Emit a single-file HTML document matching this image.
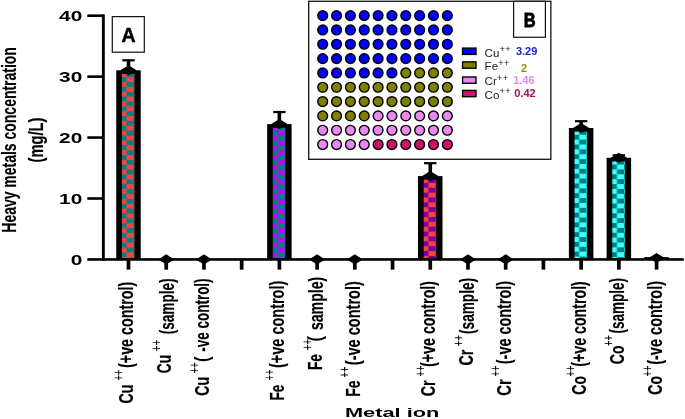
<!DOCTYPE html>
<html><head><meta charset="utf-8"><title>Heavy metals concentration</title>
<style>html,body{margin:0;padding:0;background:#fff;}body{width:685px;height:419px;overflow:hidden;}svg{display:block;will-change:transform;}text{font-family:"Liberation Sans",sans-serif;}</style>
</head><body>
<svg width="685" height="419" viewBox="0 0 685 419">
<rect x="0" y="0" width="685" height="419" fill="#ffffff"/>
<defs>
<pattern id="p0" patternUnits="userSpaceOnUse" x="119.30" y="72.20" width="14.60" height="9.74"><rect x="0" y="0" width="14.60" height="9.74" fill="#ff4040"/><rect x="7.30" y="0" width="7.30" height="4.87" fill="#008080"/><rect x="0" y="4.87" width="7.30" height="4.87" fill="#008080"/></pattern>
<pattern id="p1" patternUnits="userSpaceOnUse" x="270.18" y="126.00" width="14.60" height="9.74"><rect x="0" y="0" width="14.60" height="9.74" fill="#b010f0"/><rect x="7.30" y="0" width="7.30" height="4.87" fill="#008080"/><rect x="0" y="4.87" width="7.30" height="4.87" fill="#008080"/></pattern>
<pattern id="p2" patternUnits="userSpaceOnUse" x="421.06" y="178.00" width="14.60" height="9.74"><rect x="0" y="0" width="14.60" height="9.74" fill="#ff4040"/><rect x="7.30" y="0" width="7.30" height="4.87" fill="#7000a0"/><rect x="0" y="4.87" width="7.30" height="4.87" fill="#7000a0"/></pattern>
<pattern id="p3" patternUnits="userSpaceOnUse" x="571.94" y="129.90" width="14.60" height="9.74"><rect x="0" y="0" width="14.60" height="9.74" fill="#40ffff"/><rect x="7.30" y="0" width="7.30" height="4.87" fill="#008080"/><rect x="0" y="4.87" width="7.30" height="4.87" fill="#008080"/></pattern>
<pattern id="p4" patternUnits="userSpaceOnUse" x="609.66" y="159.70" width="14.60" height="9.74"><rect x="0" y="0" width="14.60" height="9.74" fill="#40ffff"/><rect x="7.30" y="0" width="7.30" height="4.87" fill="#008080"/><rect x="0" y="4.87" width="7.30" height="4.87" fill="#008080"/></pattern>
</defs>
<rect x="116.25" y="70.30" width="24.5" height="189.15" fill="#000"/>
<rect x="121.90" y="73.90" width="12.6" height="184.25" fill="url(#p0)"/>
<rect x="267.13" y="124.10" width="24.5" height="135.35" fill="#000"/>
<rect x="272.78" y="127.70" width="12.6" height="130.45" fill="url(#p1)"/>
<rect x="418.01" y="176.10" width="24.5" height="83.35" fill="#000"/>
<rect x="423.66" y="179.70" width="12.6" height="78.45" fill="url(#p2)"/>
<rect x="568.89" y="128.00" width="24.5" height="131.45" fill="#000"/>
<rect x="574.54" y="131.60" width="12.6" height="126.55" fill="url(#p3)"/>
<rect x="606.61" y="157.80" width="24.5" height="101.65" fill="#000"/>
<rect x="612.26" y="161.40" width="12.6" height="96.75" fill="url(#p4)"/>
<rect x="101.90" y="14.40" width="2.9" height="246.35" fill="#000"/>
<rect x="101.90" y="258.15" width="581.90" height="2.6" fill="#000"/>
<rect x="87.3" y="258.15" width="16" height="2.6" fill="#000"/>
<rect x="87.3" y="197.21" width="16" height="2.6" fill="#000"/>
<rect x="87.3" y="136.27" width="16" height="2.6" fill="#000"/>
<rect x="87.3" y="75.34" width="16" height="2.6" fill="#000"/>
<rect x="87.3" y="14.40" width="16" height="2.6" fill="#000"/>
<rect x="126.65" y="259.45" width="3.7" height="10.2" fill="#000"/>
<rect x="164.37" y="259.45" width="3.7" height="10.2" fill="#000"/>
<rect x="202.09" y="259.45" width="3.7" height="10.2" fill="#000"/>
<rect x="239.81" y="259.45" width="3.7" height="10.2" fill="#000"/>
<rect x="277.53" y="259.45" width="3.7" height="10.2" fill="#000"/>
<rect x="315.25" y="259.45" width="3.7" height="10.2" fill="#000"/>
<rect x="352.97" y="259.45" width="3.7" height="10.2" fill="#000"/>
<rect x="390.69" y="259.45" width="3.7" height="10.2" fill="#000"/>
<rect x="428.41" y="259.45" width="3.7" height="10.2" fill="#000"/>
<rect x="466.13" y="259.45" width="3.7" height="10.2" fill="#000"/>
<rect x="503.85" y="259.45" width="3.7" height="10.2" fill="#000"/>
<rect x="541.57" y="259.45" width="3.7" height="10.2" fill="#000"/>
<rect x="579.29" y="259.45" width="3.7" height="10.2" fill="#000"/>
<rect x="617.01" y="259.45" width="3.7" height="10.2" fill="#000"/>
<rect x="654.73" y="259.45" width="3.7" height="10.2" fill="#000"/>
<rect x="644.33" y="257.1" width="24.5" height="2.5" fill="#000"/>
<polygon points="120.40,70.30 128.50,65.20 136.60,70.30 128.50,75.40" fill="#000"/>
<rect x="122.30" y="59.20" width="12.4" height="2.2" fill="#000"/>
<rect x="126.70" y="60.30" width="3.6" height="10.00" fill="#000"/>
<polygon points="271.28,124.10 279.38,119.00 287.48,124.10 279.38,129.20" fill="#000"/>
<rect x="273.18" y="110.90" width="12.4" height="2.2" fill="#000"/>
<rect x="277.58" y="112.00" width="3.6" height="12.10" fill="#000"/>
<polygon points="422.16,176.10 430.26,171.00 438.36,176.10 430.26,181.20" fill="#000"/>
<rect x="424.06" y="162.10" width="12.4" height="2.2" fill="#000"/>
<rect x="428.46" y="163.20" width="3.6" height="12.90" fill="#000"/>
<polygon points="573.04,128.00 581.14,122.90 589.24,128.00 581.14,133.10" fill="#000"/>
<rect x="574.94" y="120.10" width="12.4" height="2.2" fill="#000"/>
<rect x="579.34" y="121.20" width="3.6" height="6.80" fill="#000"/>
<polygon points="610.76,157.80 618.86,152.70 626.96,157.80 618.86,162.90" fill="#000"/>
<rect x="612.66" y="154.20" width="12.4" height="2.2" fill="#000"/>
<rect x="617.06" y="155.30" width="3.6" height="2.50" fill="#000"/>
<polygon points="158.22,259.45 166.22,254.35 174.22,259.45 166.22,264.55" fill="#000"/>
<polygon points="195.94,259.45 203.94,254.35 211.94,259.45 203.94,264.55" fill="#000"/>
<polygon points="309.10,259.45 317.10,254.35 325.10,259.45 317.10,264.55" fill="#000"/>
<polygon points="346.82,259.45 354.82,254.35 362.82,259.45 354.82,264.55" fill="#000"/>
<polygon points="459.98,259.45 467.98,254.35 475.98,259.45 467.98,264.55" fill="#000"/>
<polygon points="497.70,259.45 505.70,254.35 513.70,259.45 505.70,264.55" fill="#000"/>
<polygon points="648.58,258.00 656.58,252.90 664.58,258.00 656.58,263.10" fill="#000"/>
<text transform="translate(82.3,264.75) scale(1.40,1)" text-anchor="end" font-size="14.9" font-weight="bold" fill="#000">0</text>
<text transform="translate(82.3,203.81) scale(1.40,1)" text-anchor="end" font-size="14.9" font-weight="bold" fill="#000">10</text>
<text transform="translate(82.3,142.88) scale(1.40,1)" text-anchor="end" font-size="14.9" font-weight="bold" fill="#000">20</text>
<text transform="translate(82.3,81.94) scale(1.40,1)" text-anchor="end" font-size="14.9" font-weight="bold" fill="#000">30</text>
<text transform="translate(82.3,21.00) scale(1.40,1)" text-anchor="end" font-size="14.9" font-weight="bold" fill="#000">40</text>
<text transform="translate(15.8,232.7) rotate(-90)" font-size="20.5" font-weight="bold" stroke="#000" stroke-width="0.18" textLength="185.6" lengthAdjust="spacingAndGlyphs" fill="#000">Heavy metals concentration</text>
<text transform="translate(42.8,162.5) rotate(-90)" font-size="20.5" font-weight="bold" stroke="#000" stroke-width="0.18" textLength="45" lengthAdjust="spacingAndGlyphs" fill="#000">(mg/L)</text>
<text transform="translate(345,416.6)" font-size="12.4" font-weight="bold" textLength="94.3" lengthAdjust="spacingAndGlyphs" fill="#000">Metal ion</text>
<text transform="translate(133.30,403.40) rotate(-90)" font-size="20.5" font-weight="bold" stroke="#000" stroke-width="0.18" textLength="18.80" lengthAdjust="spacingAndGlyphs" xml:space="preserve">Cu</text>
<text transform="translate(122.90,380.60) rotate(-90)" font-size="14" font-weight="normal" stroke="#000" stroke-width="0.1" textLength="10.70" lengthAdjust="spacingAndGlyphs" xml:space="preserve">++</text>
<text transform="translate(133.30,368.00) rotate(-90)" font-size="20.5" font-weight="bold" stroke="#000" stroke-width="0.18" textLength="86.30" lengthAdjust="spacingAndGlyphs" xml:space="preserve">(+ve control)</text>
<text transform="translate(171.10,373.20) rotate(-90)" font-size="20.5" font-weight="bold" stroke="#000" stroke-width="0.18" textLength="18.20" lengthAdjust="spacingAndGlyphs" xml:space="preserve">Cu</text>
<text transform="translate(160.70,351.20) rotate(-90)" font-size="14" font-weight="normal" stroke="#000" stroke-width="0.1" textLength="11.30" lengthAdjust="spacingAndGlyphs" xml:space="preserve">++</text>
<text transform="translate(174.40,334.30) rotate(-90)" font-size="20.5" font-weight="bold" stroke="#000" stroke-width="0.18" textLength="55.90" lengthAdjust="spacingAndGlyphs" xml:space="preserve">(sample)</text>
<text transform="translate(208.90,395.70) rotate(-90)" font-size="20.5" font-weight="bold" stroke="#000" stroke-width="0.18" textLength="18.80" lengthAdjust="spacingAndGlyphs" xml:space="preserve">Cu</text>
<text transform="translate(198.50,373.60) rotate(-90)" font-size="14" font-weight="normal" stroke="#000" stroke-width="0.1" textLength="11.40" lengthAdjust="spacingAndGlyphs" xml:space="preserve">++</text>
<text transform="translate(208.90,362.10) rotate(-90) scale(0.8,1)" font-size="20.5" font-weight="bold">(</text>
<text transform="translate(208.90,351.80) rotate(-90)" font-size="20.5" font-weight="bold" stroke="#000" stroke-width="0.18" textLength="73.40" lengthAdjust="spacingAndGlyphs" xml:space="preserve">-ve control)</text>
<text transform="translate(283.90,400.50) rotate(-90)" font-size="20.5" font-weight="bold" stroke="#000" stroke-width="0.18" textLength="15.90" lengthAdjust="spacingAndGlyphs" xml:space="preserve">Fe</text>
<text transform="translate(273.50,380.60) rotate(-90)" font-size="14" font-weight="normal" stroke="#000" stroke-width="0.1" textLength="11.10" lengthAdjust="spacingAndGlyphs" xml:space="preserve">++</text>
<text transform="translate(283.90,368.00) rotate(-90)" font-size="20.5" font-weight="bold" stroke="#000" stroke-width="0.18" textLength="87.30" lengthAdjust="spacingAndGlyphs" xml:space="preserve">(+ve control)</text>
<text transform="translate(322.10,370.00) rotate(-90)" font-size="20.5" font-weight="bold" stroke="#000" stroke-width="0.18" textLength="16.00" lengthAdjust="spacingAndGlyphs" xml:space="preserve">Fe</text>
<text transform="translate(311.70,350.60) rotate(-90)" font-size="14" font-weight="normal" stroke="#000" stroke-width="0.1" textLength="11.70" lengthAdjust="spacingAndGlyphs" xml:space="preserve">++</text>
<text transform="translate(322.40,341.60) rotate(-90) scale(0.8,1)" font-size="20.5" font-weight="bold">(</text>
<text transform="translate(322.60,330.10) rotate(-90)" font-size="20.5" font-weight="bold" stroke="#000" stroke-width="0.18" textLength="53.40" lengthAdjust="spacingAndGlyphs" xml:space="preserve">sample)</text>
<text transform="translate(359.70,396.70) rotate(-90)" font-size="20.5" font-weight="bold" stroke="#000" stroke-width="0.18" textLength="16.30" lengthAdjust="spacingAndGlyphs" xml:space="preserve">Fe</text>
<text transform="translate(349.30,377.40) rotate(-90)" font-size="14" font-weight="normal" stroke="#000" stroke-width="0.1" textLength="10.80" lengthAdjust="spacingAndGlyphs" xml:space="preserve">++</text>
<text transform="translate(359.60,365.20) rotate(-90)" font-size="20.5" font-weight="bold" stroke="#000" stroke-width="0.18" textLength="84.00" lengthAdjust="spacingAndGlyphs" xml:space="preserve">(-ve control)</text>
<text transform="translate(435.40,396.30) rotate(-90)" font-size="20.5" font-weight="bold" stroke="#000" stroke-width="0.18" textLength="15.90" lengthAdjust="spacingAndGlyphs" xml:space="preserve">Cr</text>
<text transform="translate(425.00,376.40) rotate(-90)" font-size="14" font-weight="normal" stroke="#000" stroke-width="0.1" textLength="10.70" lengthAdjust="spacingAndGlyphs" xml:space="preserve">++</text>
<text transform="translate(434.90,367.10) rotate(-90)" font-size="20.5" font-weight="bold" stroke="#000" stroke-width="0.18" textLength="86.20" lengthAdjust="spacingAndGlyphs" xml:space="preserve">(+ve control)</text>
<text transform="translate(473.00,365.60) rotate(-90)" font-size="20.5" font-weight="bold" stroke="#000" stroke-width="0.18" textLength="15.80" lengthAdjust="spacingAndGlyphs" xml:space="preserve">Cr</text>
<text transform="translate(462.60,346.30) rotate(-90)" font-size="14" font-weight="normal" stroke="#000" stroke-width="0.1" textLength="11.20" lengthAdjust="spacingAndGlyphs" xml:space="preserve">++</text>
<text transform="translate(474.40,334.00) rotate(-90)" font-size="20.5" font-weight="bold" stroke="#000" stroke-width="0.18" textLength="56.10" lengthAdjust="spacingAndGlyphs" xml:space="preserve">(sample)</text>
<text transform="translate(510.60,395.70) rotate(-90)" font-size="20.5" font-weight="bold" stroke="#000" stroke-width="0.18" textLength="16.50" lengthAdjust="spacingAndGlyphs" xml:space="preserve">Cr</text>
<text transform="translate(500.20,376.40) rotate(-90)" font-size="14" font-weight="normal" stroke="#000" stroke-width="0.1" textLength="10.70" lengthAdjust="spacingAndGlyphs" xml:space="preserve">++</text>
<text transform="translate(511.00,364.20) rotate(-90)" font-size="20.5" font-weight="bold" stroke="#000" stroke-width="0.18" textLength="83.30" lengthAdjust="spacingAndGlyphs" xml:space="preserve">(-ve control)</text>
<text transform="translate(585.60,394.80) rotate(-90)" font-size="20.5" font-weight="bold" stroke="#000" stroke-width="0.18" textLength="18.80" lengthAdjust="spacingAndGlyphs" xml:space="preserve">Co</text>
<text transform="translate(575.20,376.40) rotate(-90)" font-size="14" font-weight="normal" stroke="#000" stroke-width="0.1" textLength="10.70" lengthAdjust="spacingAndGlyphs" xml:space="preserve">++</text>
<text transform="translate(585.50,366.70) rotate(-90)" font-size="20.5" font-weight="bold" stroke="#000" stroke-width="0.18" textLength="85.50" lengthAdjust="spacingAndGlyphs" xml:space="preserve">(+ve control)</text>
<text transform="translate(623.80,364.20) rotate(-90)" font-size="20.5" font-weight="bold" stroke="#000" stroke-width="0.18" textLength="18.80" lengthAdjust="spacingAndGlyphs" xml:space="preserve">Co</text>
<text transform="translate(613.40,345.90) rotate(-90)" font-size="14" font-weight="normal" stroke="#000" stroke-width="0.1" textLength="10.80" lengthAdjust="spacingAndGlyphs" xml:space="preserve">++</text>
<text transform="translate(624.40,333.50) rotate(-90)" font-size="20.5" font-weight="bold" stroke="#000" stroke-width="0.18" textLength="55.60" lengthAdjust="spacingAndGlyphs" xml:space="preserve">(sample)</text>
<text transform="translate(662.00,394.80) rotate(-90)" font-size="20.5" font-weight="bold" stroke="#000" stroke-width="0.18" textLength="18.80" lengthAdjust="spacingAndGlyphs" xml:space="preserve">Co</text>
<text transform="translate(651.60,376.40) rotate(-90)" font-size="14" font-weight="normal" stroke="#000" stroke-width="0.1" textLength="10.70" lengthAdjust="spacingAndGlyphs" xml:space="preserve">++</text>
<text transform="translate(662.00,364.80) rotate(-90)" font-size="20.5" font-weight="bold" stroke="#000" stroke-width="0.18" textLength="83.90" lengthAdjust="spacingAndGlyphs" xml:space="preserve">(-ve control)</text>
<rect x="112.3" y="16.6" width="32.0" height="35.6" fill="#fff" stroke="#111" stroke-width="1.2"/>
<text transform="translate(128.55,42.35) scale(0.95,1)" text-anchor="middle" font-size="20.6" font-weight="bold" stroke="#000" stroke-width="0.5">A</text>
<rect x="308.7" y="1.3" width="242.15" height="158.0" fill="#fff" stroke="#111" stroke-width="1.3"/>
<rect x="513.6" y="1.3" width="31.8" height="35.95" fill="#fff" stroke="#111" stroke-width="1.2"/>
<text transform="translate(529.7,26.75) scale(0.84,1)" text-anchor="middle" font-size="19.6" font-weight="bold" stroke="#000" stroke-width="0.8">B</text>
<circle cx="322.70" cy="15.60" r="4.9" fill="#0000ff" stroke="#000" stroke-width="1.4"/>
<circle cx="336.55" cy="15.60" r="4.9" fill="#0000ff" stroke="#000" stroke-width="1.4"/>
<circle cx="350.40" cy="15.60" r="4.9" fill="#0000ff" stroke="#000" stroke-width="1.4"/>
<circle cx="364.25" cy="15.60" r="4.9" fill="#0000ff" stroke="#000" stroke-width="1.4"/>
<circle cx="378.10" cy="15.60" r="4.9" fill="#0000ff" stroke="#000" stroke-width="1.4"/>
<circle cx="391.95" cy="15.60" r="4.9" fill="#0000ff" stroke="#000" stroke-width="1.4"/>
<circle cx="405.80" cy="15.60" r="4.9" fill="#0000ff" stroke="#000" stroke-width="1.4"/>
<circle cx="419.65" cy="15.60" r="4.9" fill="#0000ff" stroke="#000" stroke-width="1.4"/>
<circle cx="433.50" cy="15.60" r="4.9" fill="#0000ff" stroke="#000" stroke-width="1.4"/>
<circle cx="447.35" cy="15.60" r="4.9" fill="#0000ff" stroke="#000" stroke-width="1.4"/>
<circle cx="322.70" cy="29.93" r="4.9" fill="#0000ff" stroke="#000" stroke-width="1.4"/>
<circle cx="336.55" cy="29.93" r="4.9" fill="#0000ff" stroke="#000" stroke-width="1.4"/>
<circle cx="350.40" cy="29.93" r="4.9" fill="#0000ff" stroke="#000" stroke-width="1.4"/>
<circle cx="364.25" cy="29.93" r="4.9" fill="#0000ff" stroke="#000" stroke-width="1.4"/>
<circle cx="378.10" cy="29.93" r="4.9" fill="#0000ff" stroke="#000" stroke-width="1.4"/>
<circle cx="391.95" cy="29.93" r="4.9" fill="#0000ff" stroke="#000" stroke-width="1.4"/>
<circle cx="405.80" cy="29.93" r="4.9" fill="#0000ff" stroke="#000" stroke-width="1.4"/>
<circle cx="419.65" cy="29.93" r="4.9" fill="#0000ff" stroke="#000" stroke-width="1.4"/>
<circle cx="433.50" cy="29.93" r="4.9" fill="#0000ff" stroke="#000" stroke-width="1.4"/>
<circle cx="447.35" cy="29.93" r="4.9" fill="#0000ff" stroke="#000" stroke-width="1.4"/>
<circle cx="322.70" cy="44.26" r="4.9" fill="#0000ff" stroke="#000" stroke-width="1.4"/>
<circle cx="336.55" cy="44.26" r="4.9" fill="#0000ff" stroke="#000" stroke-width="1.4"/>
<circle cx="350.40" cy="44.26" r="4.9" fill="#0000ff" stroke="#000" stroke-width="1.4"/>
<circle cx="364.25" cy="44.26" r="4.9" fill="#0000ff" stroke="#000" stroke-width="1.4"/>
<circle cx="378.10" cy="44.26" r="4.9" fill="#0000ff" stroke="#000" stroke-width="1.4"/>
<circle cx="391.95" cy="44.26" r="4.9" fill="#0000ff" stroke="#000" stroke-width="1.4"/>
<circle cx="405.80" cy="44.26" r="4.9" fill="#0000ff" stroke="#000" stroke-width="1.4"/>
<circle cx="419.65" cy="44.26" r="4.9" fill="#0000ff" stroke="#000" stroke-width="1.4"/>
<circle cx="433.50" cy="44.26" r="4.9" fill="#0000ff" stroke="#000" stroke-width="1.4"/>
<circle cx="447.35" cy="44.26" r="4.9" fill="#0000ff" stroke="#000" stroke-width="1.4"/>
<circle cx="322.70" cy="58.59" r="4.9" fill="#0000ff" stroke="#000" stroke-width="1.4"/>
<circle cx="336.55" cy="58.59" r="4.9" fill="#0000ff" stroke="#000" stroke-width="1.4"/>
<circle cx="350.40" cy="58.59" r="4.9" fill="#0000ff" stroke="#000" stroke-width="1.4"/>
<circle cx="364.25" cy="58.59" r="4.9" fill="#0000ff" stroke="#000" stroke-width="1.4"/>
<circle cx="378.10" cy="58.59" r="4.9" fill="#0000ff" stroke="#000" stroke-width="1.4"/>
<circle cx="391.95" cy="58.59" r="4.9" fill="#0000ff" stroke="#000" stroke-width="1.4"/>
<circle cx="405.80" cy="58.59" r="4.9" fill="#0000ff" stroke="#000" stroke-width="1.4"/>
<circle cx="419.65" cy="58.59" r="4.9" fill="#0000ff" stroke="#000" stroke-width="1.4"/>
<circle cx="433.50" cy="58.59" r="4.9" fill="#0000ff" stroke="#000" stroke-width="1.4"/>
<circle cx="447.35" cy="58.59" r="4.9" fill="#0000ff" stroke="#000" stroke-width="1.4"/>
<circle cx="322.70" cy="72.92" r="4.9" fill="#0000ff" stroke="#000" stroke-width="1.4"/>
<circle cx="336.55" cy="72.92" r="4.9" fill="#0000ff" stroke="#000" stroke-width="1.4"/>
<circle cx="350.40" cy="72.92" r="4.9" fill="#0000ff" stroke="#000" stroke-width="1.4"/>
<circle cx="364.25" cy="72.92" r="4.9" fill="#0000ff" stroke="#000" stroke-width="1.4"/>
<circle cx="378.10" cy="72.92" r="4.9" fill="#0000ff" stroke="#000" stroke-width="1.4"/>
<circle cx="391.95" cy="72.92" r="4.9" fill="#0000ff" stroke="#000" stroke-width="1.4"/>
<circle cx="405.80" cy="72.92" r="4.9" fill="#808000" stroke="#000" stroke-width="1.4"/>
<circle cx="419.65" cy="72.92" r="4.9" fill="#808000" stroke="#000" stroke-width="1.4"/>
<circle cx="433.50" cy="72.92" r="4.9" fill="#808000" stroke="#000" stroke-width="1.4"/>
<circle cx="447.35" cy="72.92" r="4.9" fill="#808000" stroke="#000" stroke-width="1.4"/>
<circle cx="322.70" cy="87.25" r="4.9" fill="#808000" stroke="#000" stroke-width="1.4"/>
<circle cx="336.55" cy="87.25" r="4.9" fill="#808000" stroke="#000" stroke-width="1.4"/>
<circle cx="350.40" cy="87.25" r="4.9" fill="#808000" stroke="#000" stroke-width="1.4"/>
<circle cx="364.25" cy="87.25" r="4.9" fill="#808000" stroke="#000" stroke-width="1.4"/>
<circle cx="378.10" cy="87.25" r="4.9" fill="#808000" stroke="#000" stroke-width="1.4"/>
<circle cx="391.95" cy="87.25" r="4.9" fill="#808000" stroke="#000" stroke-width="1.4"/>
<circle cx="405.80" cy="87.25" r="4.9" fill="#808000" stroke="#000" stroke-width="1.4"/>
<circle cx="419.65" cy="87.25" r="4.9" fill="#808000" stroke="#000" stroke-width="1.4"/>
<circle cx="433.50" cy="87.25" r="4.9" fill="#808000" stroke="#000" stroke-width="1.4"/>
<circle cx="447.35" cy="87.25" r="4.9" fill="#808000" stroke="#000" stroke-width="1.4"/>
<circle cx="322.70" cy="101.58" r="4.9" fill="#808000" stroke="#000" stroke-width="1.4"/>
<circle cx="336.55" cy="101.58" r="4.9" fill="#808000" stroke="#000" stroke-width="1.4"/>
<circle cx="350.40" cy="101.58" r="4.9" fill="#808000" stroke="#000" stroke-width="1.4"/>
<circle cx="364.25" cy="101.58" r="4.9" fill="#808000" stroke="#000" stroke-width="1.4"/>
<circle cx="378.10" cy="101.58" r="4.9" fill="#808000" stroke="#000" stroke-width="1.4"/>
<circle cx="391.95" cy="101.58" r="4.9" fill="#808000" stroke="#000" stroke-width="1.4"/>
<circle cx="405.80" cy="101.58" r="4.9" fill="#808000" stroke="#000" stroke-width="1.4"/>
<circle cx="419.65" cy="101.58" r="4.9" fill="#808000" stroke="#000" stroke-width="1.4"/>
<circle cx="433.50" cy="101.58" r="4.9" fill="#808000" stroke="#000" stroke-width="1.4"/>
<circle cx="447.35" cy="101.58" r="4.9" fill="#808000" stroke="#000" stroke-width="1.4"/>
<circle cx="322.70" cy="115.91" r="4.9" fill="#808000" stroke="#000" stroke-width="1.4"/>
<circle cx="336.55" cy="115.91" r="4.9" fill="#808000" stroke="#000" stroke-width="1.4"/>
<circle cx="350.40" cy="115.91" r="4.9" fill="#808000" stroke="#000" stroke-width="1.4"/>
<circle cx="364.25" cy="115.91" r="4.9" fill="#808000" stroke="#000" stroke-width="1.4"/>
<circle cx="378.10" cy="115.91" r="4.9" fill="#e888f0" stroke="#000" stroke-width="1.4"/>
<circle cx="391.95" cy="115.91" r="4.9" fill="#e888f0" stroke="#000" stroke-width="1.4"/>
<circle cx="405.80" cy="115.91" r="4.9" fill="#e888f0" stroke="#000" stroke-width="1.4"/>
<circle cx="419.65" cy="115.91" r="4.9" fill="#e888f0" stroke="#000" stroke-width="1.4"/>
<circle cx="433.50" cy="115.91" r="4.9" fill="#e888f0" stroke="#000" stroke-width="1.4"/>
<circle cx="447.35" cy="115.91" r="4.9" fill="#e888f0" stroke="#000" stroke-width="1.4"/>
<circle cx="322.70" cy="130.24" r="4.9" fill="#e888f0" stroke="#000" stroke-width="1.4"/>
<circle cx="336.55" cy="130.24" r="4.9" fill="#e888f0" stroke="#000" stroke-width="1.4"/>
<circle cx="350.40" cy="130.24" r="4.9" fill="#e888f0" stroke="#000" stroke-width="1.4"/>
<circle cx="364.25" cy="130.24" r="4.9" fill="#e888f0" stroke="#000" stroke-width="1.4"/>
<circle cx="378.10" cy="130.24" r="4.9" fill="#e888f0" stroke="#000" stroke-width="1.4"/>
<circle cx="391.95" cy="130.24" r="4.9" fill="#e888f0" stroke="#000" stroke-width="1.4"/>
<circle cx="405.80" cy="130.24" r="4.9" fill="#e888f0" stroke="#000" stroke-width="1.4"/>
<circle cx="419.65" cy="130.24" r="4.9" fill="#e888f0" stroke="#000" stroke-width="1.4"/>
<circle cx="433.50" cy="130.24" r="4.9" fill="#e888f0" stroke="#000" stroke-width="1.4"/>
<circle cx="447.35" cy="130.24" r="4.9" fill="#e888f0" stroke="#000" stroke-width="1.4"/>
<circle cx="322.70" cy="144.57" r="4.9" fill="#e888f0" stroke="#000" stroke-width="1.4"/>
<circle cx="336.55" cy="144.57" r="4.9" fill="#e888f0" stroke="#000" stroke-width="1.4"/>
<circle cx="350.40" cy="144.57" r="4.9" fill="#e888f0" stroke="#000" stroke-width="1.4"/>
<circle cx="364.25" cy="144.57" r="4.9" fill="#e888f0" stroke="#000" stroke-width="1.4"/>
<circle cx="378.10" cy="144.57" r="4.9" fill="#d0106a" stroke="#000" stroke-width="1.4"/>
<circle cx="391.95" cy="144.57" r="4.9" fill="#d0106a" stroke="#000" stroke-width="1.4"/>
<circle cx="405.80" cy="144.57" r="4.9" fill="#d0106a" stroke="#000" stroke-width="1.4"/>
<circle cx="419.65" cy="144.57" r="4.9" fill="#d0106a" stroke="#000" stroke-width="1.4"/>
<circle cx="433.50" cy="144.57" r="4.9" fill="#d0106a" stroke="#000" stroke-width="1.4"/>
<circle cx="447.35" cy="144.57" r="4.9" fill="#d0106a" stroke="#000" stroke-width="1.4"/>
<rect x="462.6" y="48.10" width="13.4" height="6.3" fill="#0000ff" stroke="#000" stroke-width="1.4"/>
<text x="484.6" y="56.60" font-size="11.6" fill="#222">Cu<tspan dy="-4.4" font-size="9.2" letter-spacing="0.5">++</tspan></text>
<text x="526.60" y="54.70" text-anchor="middle" font-size="11" font-weight="bold" fill="#2020cc">3.29</text>
<rect x="462.6" y="61.90" width="13.4" height="6.3" fill="#808000" stroke="#000" stroke-width="1.4"/>
<text x="484.6" y="70.40" font-size="11.6" fill="#222">Fe<tspan dy="-4.4" font-size="9.2" letter-spacing="0.5">++</tspan></text>
<text x="524.00" y="71.70" text-anchor="middle" font-size="11" font-weight="bold" fill="#8e8e20">2</text>
<rect x="462.6" y="77.00" width="13.4" height="6.3" fill="#e888f0" stroke="#000" stroke-width="1.4"/>
<text x="484.6" y="85.10" font-size="11.6" fill="#222">Cr<tspan dy="-4.4" font-size="9.2" letter-spacing="0.5">++</tspan></text>
<text x="523.90" y="83.80" text-anchor="middle" font-size="11" font-weight="bold" fill="#e488f2">1.46</text>
<rect x="462.6" y="90.40" width="13.4" height="6.3" fill="#d0106a" stroke="#000" stroke-width="1.4"/>
<text x="484.6" y="98.80" font-size="11.6" fill="#222">Co<tspan dy="-4.4" font-size="9.2" letter-spacing="0.5">++</tspan></text>
<text x="525.00" y="96.50" text-anchor="middle" font-size="11" font-weight="bold" fill="#a51055">0.42</text>
</svg>
</body></html>
